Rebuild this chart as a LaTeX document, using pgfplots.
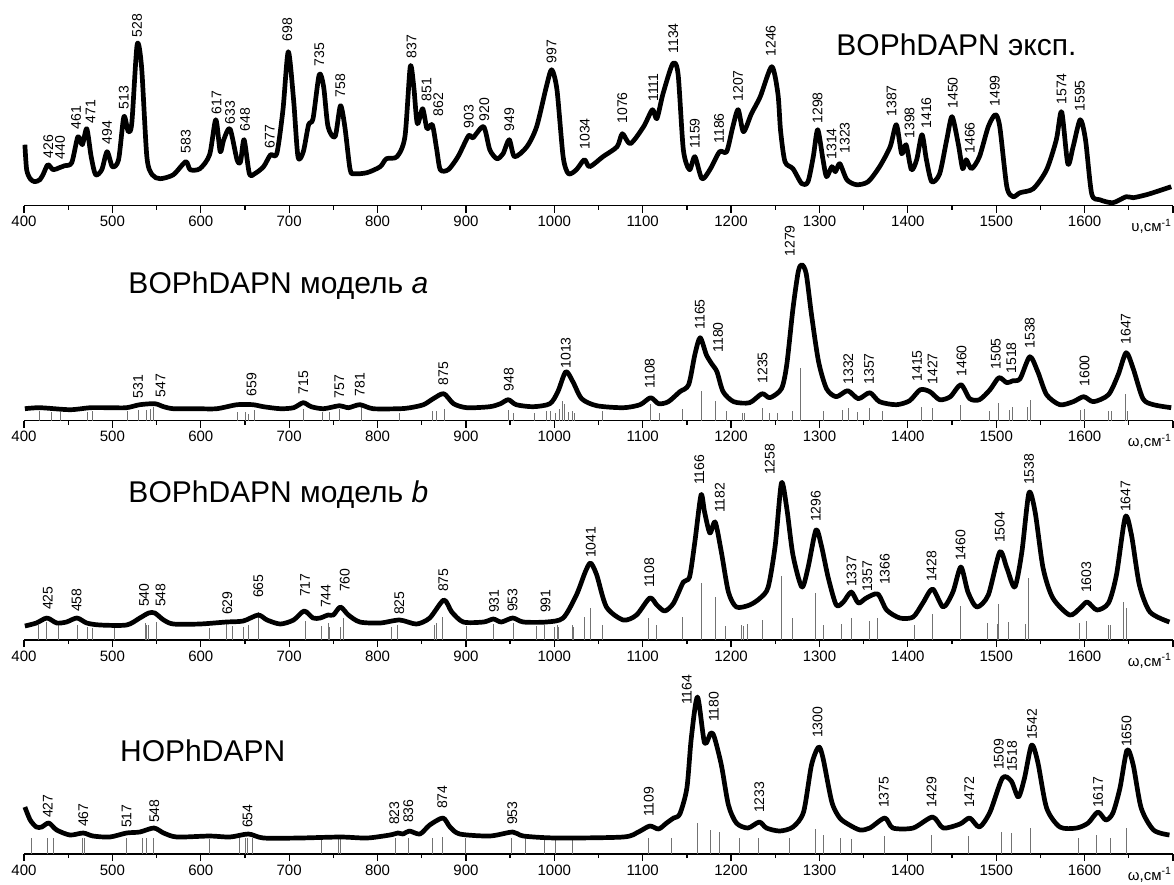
\documentclass[border=0pt]{standalone}
\usepackage{fontspec}
\setmainfont{Liberation Sans}
\usepackage{pgfplots}
\pgfplotsset{compat=1.18}

\newcommand\tickfont{\fontsize{15}{17}\selectfont}
\newcommand\peakfont{\fontsize{14}{16}\selectfont}
\newcommand\titlefont{\fontsize{30}{34}\selectfont}

\pgfplotsset{
  spec/.style={
    scale only axis, width=1149pt, height=200pt,
    xmin=400, xmax=1700, ymin=0, ymax=200,
    axis x line=bottom, axis y line=none,
    axis line style={-, line width=1.3pt},
    x axis line style={-},
    ytick=\empty,
    xtick={400,500,...,1700},
    xticklabels={400,500,600,700,800,900,1000,1100,1200,1300,1400,1500,1600,{}},
    minor x tick num=1,
    tick align=outside,
    major tick length=7pt, minor tick length=4pt,
    every tick/.style={black, line width=1.3pt},
    xticklabel style={font=\tickfont},
    clip=false, anchor=south west,
  },
  curve/.style={black, line width=4.7pt, line join=round, smooth, tension=0.45},
  sticks/.style={ycomb, black!55, line width=0.9pt, mark=none},
  peaks/.style={only marks, mark=text, text mark={},
    point meta=explicit symbolic, nodes near coords,
    every node near coord/.append style={rotate=90, anchor=west, inner sep=0pt,
      font=\peakfont, text=black}},
}

\begin{document}
\begin{tikzpicture}
\path[use as bounding box] (-24pt,-678.3pt) rectangle (1150pt,205.7pt);

% experimental
\begin{axis}[spec, at={(0pt,0pt)}]
\addplot[curve] coordinates {
(401,61) (403,36) (407,27) (412,24) (418,26) (422,32) (427,41) (433,36) (440,38)
(446,40) (454,43) (461,69) (466,61) (471,77) (476,49) (481,31) (488,36) (494,54)
(500,39) (507,46) (513,89) (518,74) (522,83) (528,161) (533,139) (539,49) (545,31)
(554,27) (569,31) (583,44) (588,36) (599,37) (610,51) (617,86) (622,54) (626,66)
(633,77) (641,46) (645,44) (649,66) (655,32) (661,32) (671,39) (679,51) (686,52)
(693,96) (699,154) (705,106) (710,49) (716,54) (722,81) (727,87) (734,131) (739,119)
(744,79) (752,69) (758,100) (763,79) (769,36) (774,32) (788,33) (803,39) (810,47)
(822,49) (831,69) (837,139) (841,119) (845,82) (851,97) (856,77) (862,81) (867,56)
(871,36) (880,36) (891,49) (903,70) (908,68) (920,79) (927,56) (935,47) (942,52)
(949,66) (955,49) (969,59) (980,79) (991,119) (997,136) (1003,116) (1010,49)
(1016,32) (1025,36) (1034,46) (1040,39) (1055,49) (1071,59) (1077,72) (1086,62)
(1101,79) (1111,96) (1116,87) (1123,112) (1134,142) (1140,132) (1146,56) (1153,36)
(1159,49) (1167,27) (1176,36) (1187,54) (1195,54) (1202,79) (1208,96) (1214,74)
(1223,92) (1233,109) (1246,139) (1253,112) (1256,75) (1261,44) (1270,37) (1280,22)
(1287,24) (1293,49) (1298,76) (1304,46) (1308,29) (1314,39) (1318,34) (1323,42)
(1331,26) (1342,21) (1355,24) (1368,39) (1380,59) (1387,81) (1393,52) (1398,61)
(1404,36) (1410,46) (1416,71) (1421,46) (1427,24) (1436,32) (1444,66) (1450,89)
(1457,62) (1462,37) (1466,46) (1472,37) (1481,49) (1491,79) (1499,91) (1504,79)
(1512,19) (1519,9) (1527,13) (1542,17) (1557,36) (1568,66) (1574,94) (1581,42)
(1587,59) (1595,86) (1601,66) (1608,12) (1617,6) (1632,3) (1647,9) (1655,8)
(1670,11) (1681,14) (1698,19)
};
\addplot[peaks] coordinates {
(427.5,47)[426] (440.7,46)[440] (459,76)[461] (475.4,82)[471] (494,61)[494]
(513,96)[513] (528,168)[528] (583,52)[583] (618,91)[617] (633,81)[633]
(650,74)[648] (678,57)[677] (698,164)[698] (734,139)[735] (758,108)[758]
(838.6,147)[837] (855.5,104)[851] (868.7,89)[862] (903.4,77)[903] (920.7,84)[920]
(949,74)[949] (997,142)[997] (1034.6,56)[1034] (1076.8,82)[1076] (1112,104)[1111]
(1134.5,152)[1134] (1159,57)[1159] (1186.5,62)[1186] (1208,104)[1207] (1245,149)[1246]
(1297.8,82)[1298] (1313.7,46)[1314] (1328.8,52)[1323] (1381.5,89)[1387] (1402,67)[1398]
(1421,77)[1416] (1451,97)[1450] (1470,52)[1466] (1498.4,99)[1499] (1574,101)[1574]
(1594.6,94)[1595]
};
\node[anchor=base west, font=\titlefont, inner sep=0pt] at (axis cs:1319,150) {BOPhDAPN эксп.};
\node[anchor=base east, font=\tickfont, inner sep=0pt, yshift=-26pt] at (axis cs:1698.5,0) {υ,см\textsuperscript{-1}};
\end{axis}

% model a
\begin{axis}[spec, at={(0pt,-215pt)}]
\addplot[sticks] coordinates {
(417,10) (431,9) (441,9) (472,9) (477,10) (517,10) (530,11) (538,11) (543,12) (546,14)
(641,9) (650,9) (654,7) (661,11) (716,12) (738,9) (746,9) (757,12) (782,14) (825,8)
(862,10) (867,10) (876,12) (948,11) (954,8) (978,8) (991,10) (996,10) (1001,8)
(1006,12) (1009,20) (1011,17) (1016,9) (1020,10) (1023,8) (1055,10) (1109,17)
(1119,8) (1145,12) (1166,30) (1182,20) (1195,10) (1213,8) (1215,8) (1236,13)
(1243,8) (1252,8) (1270,10) (1279,53) (1305,10) (1326,11) (1333,13) (1343,9)
(1356,13) (1371,10) (1415,14) (1428,13) (1460,16) (1492,10) (1503,18) (1515,11)
(1518,14) (1535,14) (1539,21) (1595,11) (1600,12) (1627,10) (1630,10) (1646,27) (1649,10)
};
\addplot[curve] coordinates {
(401,12) (418,13) (452,11) (475,13) (497,13) (516,13) (531,16) (548,17) (558,14)
(569,12) (595,12) (618,12) (641,16) (659,16) (671,14) (690,12) (705,13) (716,18)
(725,14) (739,12) (757,15) (767,13) (780,16) (795,12) (825,12) (837,13) (852,16)
(863,22) (875,27) (886,17) (901,13) (927,14) (939,17) (948,21) (957,16) (976,14)
(995,17) (1004,29) (1013,49) (1021,39) (1031,22) (1048,15) (1078,13) (1097,16)
(1109,23) (1118,17) (1129,19) (1142,29) (1152,36) (1159,66) (1165,83) (1172,66)
(1178,57) (1184,49) (1191,29) (1203,19) (1221,18) (1235,27) (1244,23) (1257,32)
(1263,56) (1270,112) (1276,149) (1280,156) (1285,147) (1291,106) (1299,59) (1308,32)
(1319,24) (1332,30) (1344,22) (1357,28) (1368,19) (1387,16) (1402,20) (1414,31)
(1425,29) (1436,21) (1448,24) (1460,36) (1470,22) (1481,21) (1493,31) (1503,43)
(1512,38) (1519,40) (1527,42) (1538,64) (1547,49) (1557,26) (1572,16) (1587,19)
(1599,24) (1610,19) (1627,26) (1638,46) (1647,68) (1655,52) (1666,22) (1678,16) (1698,13)
};
\addplot[peaks] coordinates {
(529,22)[531] (554.6,23)[547] (657.5,24)[659] (716,26)[715] (756.7,22)[757]
(780,24)[781] (874.3,35)[875] (948.6,29)[948] (1013,52)[1013] (1108,32)[1108]
(1164.7,91)[1165] (1185.4,68)[1180] (1235.6,37)[1235] (1266.5,164)[1279]
(1332.5,36)[1332] (1356,36)[1357] (1410.5,39)[1415] (1428,36)[1427] (1460.7,44)[1460]
(1499.5,51)[1505] (1517,47)[1518] (1538,72)[1538] (1600,34)[1600] (1646.7,76)[1647]
};
\node[anchor=base west, font=\titlefont, inner sep=0pt] at (axis cs:518,127) {BOPhDAPN модель \textit{a}};
\node[anchor=base east, font=\tickfont, inner sep=0pt, yshift=-26pt] at (axis cs:1698.5,0) {ω,см\textsuperscript{-1}};
\end{axis}

% model b
\begin{axis}[spec, at={(0pt,-434.3pt)}]
\addplot[sticks] coordinates {
(416,15) (425,18) (439,15) (460,15) (472,13) (477,12) (502,13) (537,17) (539,15)
(541,15) (550,18) (610,12) (629,17) (636,14) (648,13) (654,15) (665,28) (719,19)
(737,14) (744,17) (746,13) (758,13) (761,22) (816,13) (823,15) (864,15) (867,17)
(874,23) (901,14) (931,16) (954,17) (980,14) (989,15) (1000,13) (1003,15) (1005,13)
(1020,15) (1022,13) (1034,23) (1041,32) (1055,15) (1107,22) (1115,15) (1145,23)
(1167,57) (1182,43) (1194,14) (1212,15) (1214,14) (1219,16) (1236,20) (1257,64)
(1270,22) (1296,47) (1305,15) (1325,16) (1336,22) (1356,19) (1366,22) (1407,15)
(1428,26) (1459,34) (1490,17) (1501,16) (1503,36) (1514,18) (1533,16) (1537,62)
(1594,17) (1602,19) (1627,15) (1629,15) (1644,38) (1647,32)
};
\addplot[curve] coordinates {
(401,14) (414,17) (426,22) (437,17) (448,18) (460,22) (471,17) (486,15) (516,15)
(531,22) (541,27) (548,27) (558,20) (569,16) (599,16) (629,18) (648,19) (665,25)
(675,20) (690,16) (705,20) (717,29) (727,22) (735,22) (744,25) (750,25) (758,33)
(767,25) (780,18) (803,17) (825,20) (844,16) (859,22) (875,40) (884,28) (897,18)
(920,18) (931,21) (940,18) (953,22) (965,18) (991,18) (1010,22) (1025,45) (1035,68)
(1041,77) (1048,65) (1059,33) (1078,20) (1093,25) (1108,42) (1116,35) (1125,29)
(1135,37) (1146,58) (1153,63) (1159,98) (1166,145) (1170,128) (1176,107) (1182,118)
(1189,88) (1197,48) (1206,33) (1221,35) (1233,42) (1242,53) (1250,95) (1257,157)
(1263,132) (1270,85) (1280,53) (1287,72) (1296,110) (1302,95) (1310,62) (1319,35)
(1327,38) (1336,48) (1344,37) (1353,42) (1366,46) (1376,30) (1391,22) (1406,23)
(1417,37) (1428,51) (1440,33) (1451,48) (1460,73) (1468,48) (1478,33) (1491,45)
(1504,88) (1512,72) (1521,53) (1529,88) (1537,147) (1544,128) (1553,72) (1564,42)
(1583,25) (1595,32) (1603,38) (1614,30) (1627,37) (1636,65) (1646,123) (1653,105)
(1662,55) (1674,28) (1696,18)
};
\addplot[peaks] coordinates {
(426.8,30)[425] (459.6,28)[458] (535.7,33)[540] (554.6,33)[548] (630,25)[629]
(665,42)[665] (717.9,43)[717] (741.6,32)[744] (763,48)[760] (824.6,25)[825]
(874.3,48)[875] (931.7,27)[931] (952.8,28)[953] (990,27)[991] (1041.4,82)[1041]
(1107.4,52)[1108] (1164,155)[1166] (1187.3,127)[1182] (1243.9,165)[1258]
(1296,118)[1296] (1336.3,53)[1337] (1354,48)[1357] (1374,55)[1366] (1426.8,58)[1428]
(1459.6,79)[1460] (1504,97)[1504] (1537.2,155)[1538] (1602,47)[1603] (1646.2,128)[1647]
};
\node[anchor=base west, font=\titlefont, inner sep=0pt] at (axis cs:518,138) {BOPhDAPN модель \textit{b}};
\node[anchor=base east, font=\tickfont, inner sep=0pt, yshift=-26pt] at (axis cs:1698.5,0) {ω,см\textsuperscript{-1}};
\end{axis}

% HOPhDAPN
\begin{axis}[spec, at={(0pt,-648.3pt)}]
\addplot[sticks] coordinates {
(408,16) (427,16) (433,16) (466,16) (468,16) (516,16) (534,16) (539,16) (547,16)
(610,15) (644,16) (651,16) (653,16) (658,16) (736,15) (756,16) (758,16) (820,16)
(835,16) (862,16) (873,17) (899,16) (952,16) (967,16) (989,16) (1001,16) (1021,16)
(1107,16) (1133,16) (1162,31) (1177,24) (1187,22) (1210,16) (1231,16) (1266,16)
(1296,25) (1304,19) (1324,16) (1336,15) (1373,18) (1427,19) (1469,18) (1506,22)
(1517,21) (1539,26) (1593,16) (1613,19) (1629,16) (1647,26)
};
\addplot[curve] coordinates {
(401,47) (407,34) (414,27) (420,27) (428,31) (437,24) (452,19) (467,21) (478,18)
(497,17) (516,21) (531,22) (547,26) (558,21) (573,17) (610,18) (633,17) (654,20)
(671,16) (712,16) (758,17) (788,16) (814,19) (823,21) (829,20) (836,23) (848,20)
(859,29) (874,36) (882,27) (893,20) (927,18) (953,22) (965,18) (1003,16) (1078,17)
(1095,22) (1108,28) (1118,25) (1127,31) (1135,36) (1142,40) (1150,66) (1155,116)
(1162,157) (1170,111) (1177,121) (1181,117) (1189,89) (1197,49) (1206,31) (1219,26)
(1232,32) (1240,26) (1255,23) (1270,27) (1282,42) (1291,89) (1299,107) (1304,96)
(1314,52) (1323,36) (1334,29) (1346,24) (1357,26) (1374,36) (1383,26) (1406,26)
(1428,37) (1440,26) (1459,30) (1470,36) (1481,27) (1493,42) (1507,76) (1517,73)
(1525,57) (1532,76) (1540,109) (1547,92) (1557,46) (1572,27) (1591,26) (1604,31)
(1615,42) (1624,34) (1632,41) (1640,66) (1648,104) (1655,89) (1664,46) (1678,24) (1696,19)
};
\addplot[peaks] coordinates {
(426.8,36)[427] (467,27)[467] (516,26)[517] (547.4,31)[548] (653,26)[654]
(819,29)[823] (834.7,31)[836] (873.2,45)[874] (952.4,29)[953] (1107,37)[1109]
(1150,149)[1164] (1180.5,132)[1180] (1231.8,41)[1233] (1297.8,116)[1300]
(1372.9,46)[1375] (1426.8,46)[1429] (1469.4,46)[1472] (1503,84)[1509] (1518,82)[1518]
(1540.6,114)[1542] (1615.3,46)[1617] (1647.4,107)[1650]
};
\node[anchor=base west, font=\titlefont, inner sep=0pt] at (axis cs:508.6,93) {HOPhDAPN};
\node[anchor=base east, font=\tickfont, inner sep=0pt, yshift=-26pt] at (axis cs:1698.5,0) {ω,см\textsuperscript{-1}};
\end{axis}
\end{tikzpicture}
\end{document}
